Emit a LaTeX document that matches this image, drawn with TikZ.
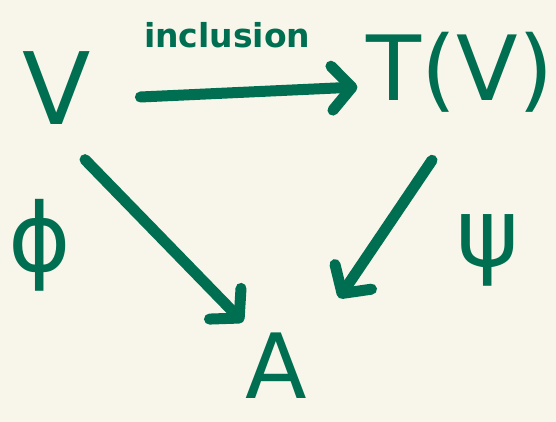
\documentclass[tikz,border=0pt]{standalone}
\usepackage{fontspec}
\setmainfont{DejaVu Sans}
\usetikzlibrary{calc,arrows.meta}
\definecolor{bg}{HTML}{F8F6EA}
\definecolor{ink}{HTML}{006E50}
\tikzset{
  obj/.style={text=ink, inner sep=0pt, font=\fontsize{100}{100}\selectfont},
  objw/.style={text=ink, inner sep=0pt, font=\fontsize{90}{90}\selectfont},
  greek/.style={text=ink, inner sep=0pt, font=\fontsize{95}{95}\selectfont},
  lab/.style={text=ink, inner sep=0pt, font=\bfseries\fontsize{33}{33}\selectfont},
  map/.style={draw=ink, line width=11pt, line cap=round, line join=round,
    -{Straight Barb[length=20pt,width=44pt,line cap=round,round]}},
}

\begin{document}
\begin{tikzpicture}[x=1pt,y=-1pt]
  \fill[bg] (0,0) rectangle (556,422);
  \useasboundingbox (0,0) rectangle (556,422);

  \node[obj] (V) at (57,88) {V};
  \node[objw] (TV) at (460,72) {T(V)};
  \node[obj, font=\fontsize{90}{90}\selectfont] (A) at (276,366) {A};
  \node[greek] (phi) at (40,245) {ϕ};
  \node[greek] (psi) at (488,250) {ψ};

  \draw[map] ($(V.east)+(49,9)$) -- node[lab,pos=0.4,above=40pt] (incl) {inclusion}
    ($(TV.west)+(-9,15)$);
  \draw[map] ($(V.south)+(28,35)$) -- ($(A.north west)+(-2,-11)$);
  \draw[map] ($(TV.south)+(-28,48)$) -- ($(A.north east)+(32,-35)$); % into A
\end{tikzpicture}
\end{document}
